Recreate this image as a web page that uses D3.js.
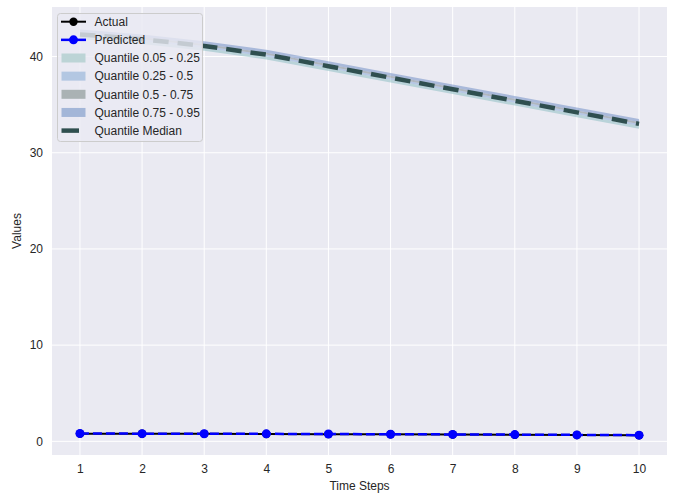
<!DOCTYPE html>
<html><head><meta charset="utf-8">
<script src="https://cdn.jsdelivr.net/npm/d3@7"></script>
<style>body{margin:0;background:#fff;} svg{display:block;font-family:"Liberation Sans",Arial,sans-serif;}</style>
</head><body>
<svg id="c" width="675" height="493"></svg>
<script>
const steps = [1,2,3,4,5,6,7,8,9,10];
const actual = [0.80,0.79,0.78,0.77,0.75,0.73,0.71,0.69,0.66,0.63];
const predicted = [0.81,0.80,0.79,0.78,0.76,0.74,0.72,0.70,0.67,0.64];
const qMedian = [42.3,41.8,41.1,40.2,39.0,37.8,36.6,35.4,34.2,33.0];
const q05 = [41.8,41.3,40.6,39.7,38.5,37.3,36.1,34.9,33.7,32.5];
const q25 = [42.1,41.6,40.9,40.0,38.8,37.6,36.4,35.2,34.0,32.8];
const q75 = [42.5,42.0,41.3,40.4,39.2,38.0,36.8,35.6,34.4,33.2];
const q95 = [42.8,42.3,41.6,40.7,39.5,38.3,37.1,35.9,34.7,33.5];
const xTicks = [1,2,3,4,5,6,7,8,9,10];
const yTicks = [0,10,20,30,40];

const svg = d3.select("#c");
const L=52, R=667, T=7, B=455;
const x = d3.scaleLinear().domain([0.55,10.45]).range([L,R]);
const y = d3.scaleLinear().domain([-1.42,45.15]).range([B,T]);

svg.append("rect").attr("x",L).attr("y",T).attr("width",R-L).attr("height",B-T).attr("fill","#eaeaf2");

// grid
svg.append("g").selectAll("line").data(xTicks).join("line")
  .attr("x1",d=>x(d)).attr("x2",d=>x(d)).attr("y1",T).attr("y2",B)
  .attr("stroke","#fff").attr("stroke-width",1);
svg.append("g").selectAll("line").data(yTicks).join("line")
  .attr("y1",d=>y(d)).attr("y2",d=>y(d)).attr("x1",L).attr("x2",R)
  .attr("stroke","#fff").attr("stroke-width",1);

// axes (text only)
const xAxis = d3.axisBottom(x).tickValues(xTicks).tickSize(0).tickPadding(9).tickFormat(d3.format("d"));
const gx = svg.append("g").attr("transform",`translate(0,${B})`).call(xAxis);
gx.select(".domain").remove();
gx.selectAll("text").attr("font-size",12).attr("fill","#262626").attr("font-family","Liberation Sans, Arial, sans-serif");
const yAxis = d3.axisLeft(y).tickValues(yTicks).tickSize(0).tickPadding(9).tickFormat(d3.format("d"));
const gy = svg.append("g").attr("transform",`translate(${L},0)`).call(yAxis);
gy.select(".domain").remove();
gy.selectAll("text").attr("font-size",12).attr("fill","#262626").attr("font-family","Liberation Sans, Arial, sans-serif");

svg.append("text").attr("x",(L+R)/2).attr("y",490).attr("text-anchor","middle")
  .attr("font-size",12).attr("fill","#262626").text("Time Steps");
svg.append("text").attr("transform",`translate(21,${(T+B)/2}) rotate(-90)`).attr("text-anchor","middle")
  .attr("font-size",12).attr("fill","#262626").text("Values");

const clip = svg.append("clipPath").attr("id","pc").append("rect").attr("x",L).attr("y",T).attr("width",R-L).attr("height",B-T);
const g = svg.append("g").attr("clip-path","url(#pc)");

const bands = [
  {lo:q05, hi:q25, color:"#8fbfc4", op:0.55, legend:"#bcd4d6", label:"Quantile 0.05 - 0.25"},
  {lo:q25, hi:qMedian, color:"#8aaad8", op:0.55, legend:"#b3c7e2", label:"Quantile 0.25 - 0.5"},
  {lo:qMedian, hi:q75, color:"#76848b", op:0.5, legend:"#aab2b4", label:"Quantile 0.5 - 0.75"},
  {lo:q75, hi:q95, color:"#7390c6", op:0.55, legend:"#a3b6d8", label:"Quantile 0.75 - 0.95"}
];
bands.forEach(b=>{
  const area = d3.area().x((d,i)=>x(steps[i])).y0((d,i)=>y(b.lo[i])).y1((d,i)=>y(b.hi[i]));
  g.append("path").datum(steps).attr("d",area).attr("fill",b.color).attr("fill-opacity",b.op);
});

const line = arr => d3.line().x((d,i)=>x(steps[i])).y((d,i)=>y(arr[i]))(steps);
g.append("path").attr("d",line(qMedian)).attr("fill","none").attr("stroke","#2f4f4f")
  .attr("stroke-width",4.5).attr("stroke-dasharray","15.5,9");

// actual
g.append("path").attr("d",line(actual)).attr("fill","none").attr("stroke","#000").attr("stroke-width",2);
g.append("g").selectAll("circle").data(steps).join("circle")
  .attr("cx",d=>x(d)).attr("cy",(d,i)=>y(actual[i])).attr("r",4.2).attr("fill","#000");
// predicted
g.append("path").attr("d",line(predicted)).attr("fill","none").attr("stroke","#0000ff").attr("stroke-width",2.5)
  .attr("stroke-dasharray","9,4");
g.append("g").selectAll("circle").data(steps).join("circle")
  .attr("cx",d=>x(d)).attr("cy",(d,i)=>y(predicted[i])).attr("r",4.5).attr("fill","#0000ff");

// legend
const lg = svg.append("g");
lg.append("rect").attr("x",57.5).attr("y",13.5).attr("width",145).attr("height",128).attr("rx",3)
  .attr("fill","#eaeaf2").attr("fill-opacity",0.8).attr("stroke","#cccccc").attr("stroke-width",1);
const rowY = i => 21.7 + i*18.15;
const labels = ["Actual","Predicted"].concat(bands.map(b=>b.label)).concat(["Quantile Median"]);
lg.append("line").attr("x1",61).attr("x2",86).attr("y1",rowY(0)).attr("y2",rowY(0)).attr("stroke","#000").attr("stroke-width",2);
lg.append("circle").attr("cx",73.5).attr("cy",rowY(0)).attr("r",4.2).attr("fill","#000");
lg.append("line").attr("x1",61).attr("x2",86).attr("y1",rowY(1)).attr("y2",rowY(1)).attr("stroke","#0000ff").attr("stroke-width",2.5);
lg.append("circle").attr("cx",73.5).attr("cy",rowY(1)).attr("r",4.5).attr("fill","#0000ff");
bands.forEach((b,i)=>{
  lg.append("rect").attr("x",61.5).attr("y",rowY(i+2)-4.5).attr("width",24).attr("height",9)
    .attr("fill",b.legend);
});
lg.append("line").attr("x1",61.5).attr("x2",79).attr("y1",rowY(6)).attr("y2",rowY(6)).attr("stroke","#2f4f4f").attr("stroke-width",4.5);
lg.selectAll("text.l").data(labels).join("text").attr("class","l")
  .attr("x",94.5).attr("y",(d,i)=>rowY(i)).attr("dy","0.35em")
  .attr("font-size",12).attr("fill","#262626").text(d=>d);
</script>
</body></html>
